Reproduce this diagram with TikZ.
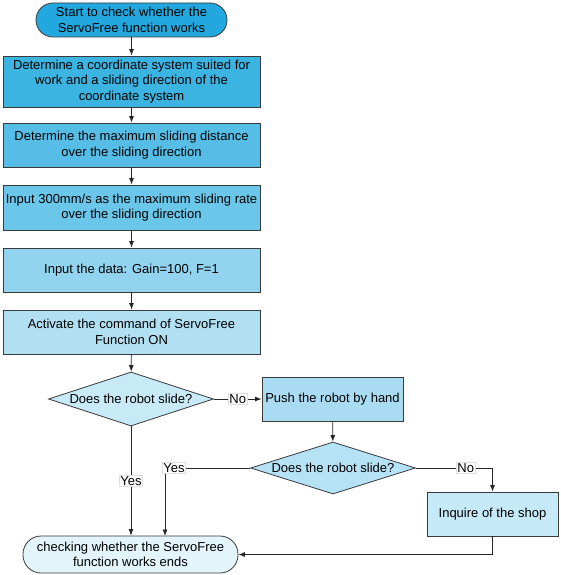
\documentclass[tikz,border=0pt]{standalone}
\usepackage{fontspec}
\setmainfont{Liberation Sans}
\usetikzlibrary{arrows.meta,shapes.geometric}
\definecolor{cstart}{HTML}{22A8DE}
\definecolor{cone}{HTML}{3CB4E1}
\definecolor{ctwo}{HTML}{56BEE6}
\definecolor{cthree}{HTML}{6BC7EA}
\definecolor{cfour}{HTML}{92D4EF}
\definecolor{cfive}{HTML}{B1E0F3}
\definecolor{cdecone}{HTML}{C8E9F6}
\definecolor{cpush}{HTML}{A9DCF2}
\definecolor{cdectwo}{HTML}{B6E2F5}
\definecolor{cshop}{HTML}{C6E9F7}
\definecolor{cend}{HTML}{E3F4FB}
\definecolor{cline}{HTML}{3A3A3A}

\begin{document}
\begin{tikzpicture}[x=1pt,y=-1pt,every node/.style={font=\fontsize{13}{15.5}\selectfont},
  stepbox/.style={draw=cline,line width=.8pt,rectangle,align=center,minimum width=257pt,inner sep=1pt},
  terminal/.style={draw=cline,line width=.8pt,rectangle,rounded corners=17pt,align=center,inner sep=2pt},
  decision/.style={draw=cline,line width=.8pt,diamond,minimum width=165pt,minimum height=54pt,inner sep=0pt},
  flow/.style={draw=black!85,line width=.8pt,-{Latex[length=6.5pt,width=5pt]}},
  tag/.style={fill=white,draw=gray!25,line width=.4pt,inner sep=1pt}]
\useasboundingbox (0,0) rectangle (561,575);
\node[terminal,fill=cstart,minimum width=191pt,minimum height=34pt] (start) at (131.5,20) {Start to check whether the\\ServoFree function works};
\node[stepbox,fill=cone,minimum height=51pt] (coord) at (131.5,81.5) {Determine a coordinate system suited for\\work and a sliding direction of the\\coordinate system};
\node[stepbox,fill=ctwo,minimum height=44pt] (dist) at (131.5,145) {Determine the maximum sliding distance\\over the sliding direction};
\node[stepbox,fill=cthree,minimum height=45pt] (rate) at (131.5,207.5) {Input 300mm/s as the maximum sliding rate\\over the sliding direction};
\node[stepbox,fill=cfour,minimum height=44pt] (data) at (131.5,270) {Input the data: Gain=100, F=1};
\node[stepbox,fill=cfive,minimum height=44pt] (activate) at (131.5,332) {Activate the command of ServoFree\\Function ON};
\node[decision,fill=cdecone,label=center:{Does the robot slide?}] (slideone) at (131,399) {};
\node[stepbox,fill=cpush,minimum width=141pt,minimum height=44pt] (push) at (332.5,399) {Push the robot by hand};
\node[decision,fill=cdectwo,minimum height=52pt,label=center:{Does the robot slide?}] (slidetwo) at (333,468) {};
\node[stepbox,fill=cshop,minimum width=131pt,minimum height=44pt] (shop) at (492.5,514) {Inquire of the shop};
\node[terminal,fill=cend,minimum width=215pt,minimum height=37pt,rounded corners=18pt] (finish) at (130.5,554.5) {checking whether the ServoFree\\function works ends};
\coordinate (yesend) at (165,536);

\draw[flow] (start) -- (coord);
\draw[flow] (coord) -- (dist);
\draw[flow] (dist) -- (rate);
\draw[flow] (rate) -- (data);
\draw[flow] (data) -- (activate);
\draw[flow] (activate) -- (slideone);
\draw[flow] (slideone.east) -- node[tag] {No} (push.west);
\draw[flow] (slideone.south) -- node[tag] {Yes} (slideone.south |- finish.north);
\draw[flow] (push) -- (slidetwo);
\draw[flow] (slidetwo.west) -| node[tag,pos=.447] {Yes} (yesend);
\draw[flow] (slidetwo.east) -| node[tag,pos=.325] {No} (shop.north);
\draw[flow] (shop.south) |- (finish.east);
\end{tikzpicture}
\end{document}
